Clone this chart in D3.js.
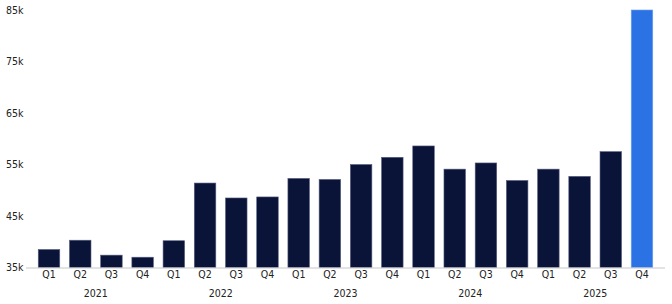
<!DOCTYPE html>
<html>
<head>
<meta charset="utf-8">
<script src="https://cdn.jsdelivr.net/npm/d3@7"></script>
<style>
body { margin: 0; background: #fff; }
text { font-family: "DejaVu Sans Condensed", "DejaVu Sans", sans-serif; }
</style>
</head>
<body>
<svg id="chart" width="672" height="304"></svg>
<script>
// quarterly values (thousands)
var years = ["2021", "2022", "2023", "2024", "2025"];
var quarters = ["Q1", "Q2", "Q3", "Q4"];
var values = [38.5, 40.3, 37.4, 37.0,
	40.2, 51.4, 48.5, 48.7,
	52.3, 52.1, 55.0, 56.4,
	58.6, 54.1, 55.3, 51.9,
	54.1, 52.7, 57.5, 85.0];
var yTicks = [35, 45, 55, 65, 75, 85];

var data = [];
years.forEach(function(y, i) {
	quarters.forEach(function(q, j) {
		data.push({ year: y, q: q, key: y + q, value: values[i * 4 + j] });
	});
});

var svg = d3.select("#chart");

var x = d3.scaleBand()
	.domain(data.map(d => d.key))
	.range([33.4, 657.6])
	.paddingInner(0.31)
	.paddingOuter(0.155);

var y = d3.scaleLinear()
	.domain([35, 85])
	.range([267.5, 10]);

// y labels
svg.append("g")
	.selectAll("text")
	.data(yTicks)
	.enter()
	.append("text")
	.attr("x", 6)
	.attr("y", d => y(d))
	.attr("dy", "0.35em")
	.attr("font-size", 10.5)
	.attr("fill", "#222")
	.text(d => d + "k");

// bars
svg.append("g")
	.selectAll("rect")
	.data(data)
	.enter()
	.append("rect")
	.attr("x", d => x(d.key))
	.attr("y", d => y(d.value))
	.attr("width", x.bandwidth())
	.attr("height", d => y(35) - y(d.value))
	.attr("fill", (d, i) => i == data.length - 1 ? "#2b73e4" : "#0a1338")
	.attr("stroke", (d, i) => i == data.length - 1 ? "#6fa0f0" : "#5a6080")
	.attr("stroke-width", 0.6);

// baseline
svg.append("line")
	.attr("x1", 26).attr("x2", 665)
	.attr("y1", y(35) + 0.5).attr("y2", y(35) + 0.5)
	.attr("stroke", "#c8c8c8")
	.attr("stroke-width", 1.2);

// quarter labels
svg.append("g")
	.selectAll("text")
	.data(data)
	.enter()
	.append("text")
	.attr("x", d => x(d.key) + x.bandwidth() / 2)
	.attr("y", 278)
	.attr("text-anchor", "middle")
	.attr("font-size", 10.5)
	.attr("fill", "#222")
	.text(d => d.q);

// year labels
svg.append("g")
	.selectAll("text")
	.data(years)
	.enter()
	.append("text")
	.attr("x", d => (x(d + "Q2") + x(d + "Q3") + x.bandwidth()) / 2)
	.attr("y", 296.5)
	.attr("text-anchor", "middle")
	.attr("font-size", 10.5)
	.attr("fill", "#222")
	.text(d => d);
</script>
</body>
</html>
